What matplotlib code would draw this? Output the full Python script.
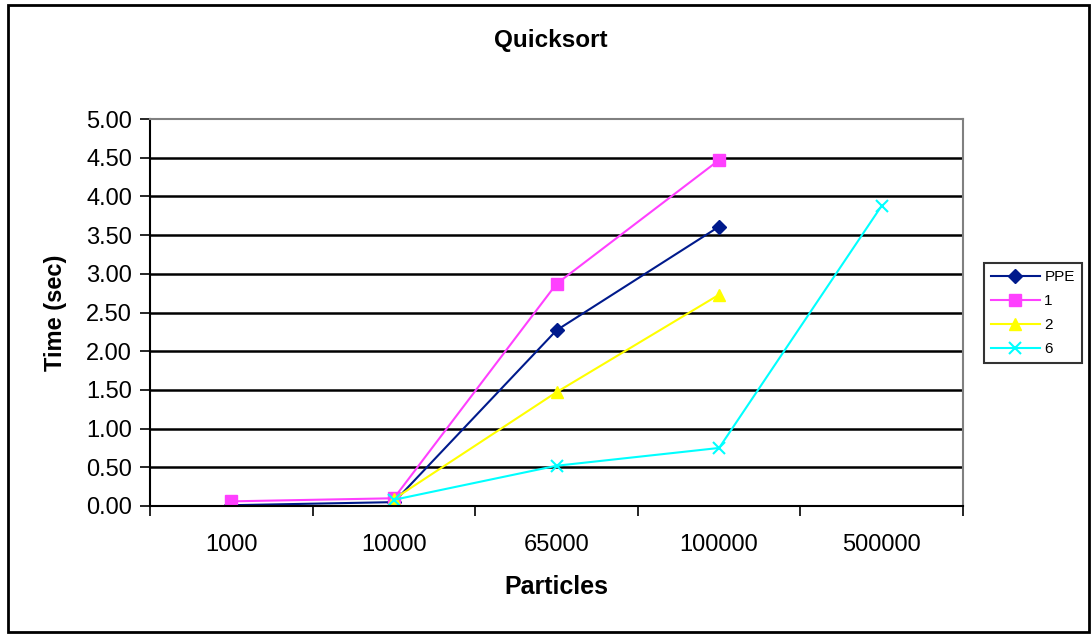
import numpy as np
import matplotlib.pyplot as plt
from matplotlib.patches import Rectangle

categories = ["1000", "10000", "65000", "100000", "500000"]
ppe = [0.01, 0.05, 2.27, 3.61, np.nan]
spe1 = [0.06, 0.10, 2.87, 4.47, np.nan]
spe2 = [np.nan, 0.09, 1.47, 2.73, np.nan]
spe6 = [np.nan, 0.08, 0.52, 0.75, 3.88]
yticks = np.arange(0, 5.01, 0.5)

plt.rcParams['font.family'] = ['Liberation Sans', 'DejaVu Sans']

fig = plt.figure(figsize=(10.92, 6.34), dpi=100)
ax = fig.add_axes([150 / 1092, 1 - 506 / 634, 813 / 1092, 387 / 634])

x = np.arange(len(categories))
ax.plot(x, ppe, color="#001a8c", marker="D", markersize=7, lw=1.5, label="PPE")
ax.plot(x, spe1, color="#ff40ff", marker="s", markersize=8, lw=1.5, label="1")
ax.plot(x, spe2, color="#ffff00", marker="^", markersize=9, lw=1.5, label="2")
ax.plot(x, spe6, color="#00ffff", marker="x", markersize=9, mew=1.5, lw=1.5, label="6")

ax.set_xlim(-0.5, len(categories) - 0.5)
ax.set_ylim(0, 5)
ax.set_yticks(yticks)
ax.set_yticklabels(["%.2f" % v for v in yticks], fontsize=17)
ax.set_xticks(x)
ax.set_xticklabels(categories, fontsize=17)
ax.set_xticks(np.arange(-0.5, len(categories)), minor=True)
ax.tick_params(axis="x", which="major", length=0, pad=20)
ax.tick_params(axis="x", which="minor", length=7, width=1.2, direction="out")
ax.tick_params(axis="y", length=7, width=1.2, direction="out", pad=6)

for v in yticks[1:-1]:
    ax.axhline(v, color="black", lw=1.8, zorder=1)

for s in ["top", "right"]:
    ax.spines[s].set_color("#808080")
    ax.spines[s].set_linewidth(1.5)
for s in ["left", "bottom"]:
    ax.spines[s].set_color("black")
    ax.spines[s].set_linewidth(1.5)

ax.set_xlabel("Particles", fontsize=18, fontweight="bold", labelpad=14)
ax.set_ylabel("Time (sec)", fontsize=17, fontweight="bold", labelpad=14)
fig.text(551 / 1092, 1 - 40 / 634, "Quicksort", fontsize=17.5, fontweight="bold",
         ha="center", va="center")

leg = ax.legend(loc="center left", bbox_to_anchor=(984 / 1092, 1 - 313 / 634),
                bbox_transform=fig.transFigure, fontsize=11, frameon=True,
                fancybox=False, edgecolor="black", borderpad=0.45,
                handlelength=3.2, handletextpad=0.3, labelspacing=0.65,
                borderaxespad=0)
leg.get_frame().set_linewidth(1.5)

fig.patches.append(Rectangle((8 / 1092, 2 / 634), 1081 / 1092, 627 / 634,
                             transform=fig.transFigure, fill=False,
                             edgecolor="black", lw=2))

fig.savefig("out.png", dpi=100)
